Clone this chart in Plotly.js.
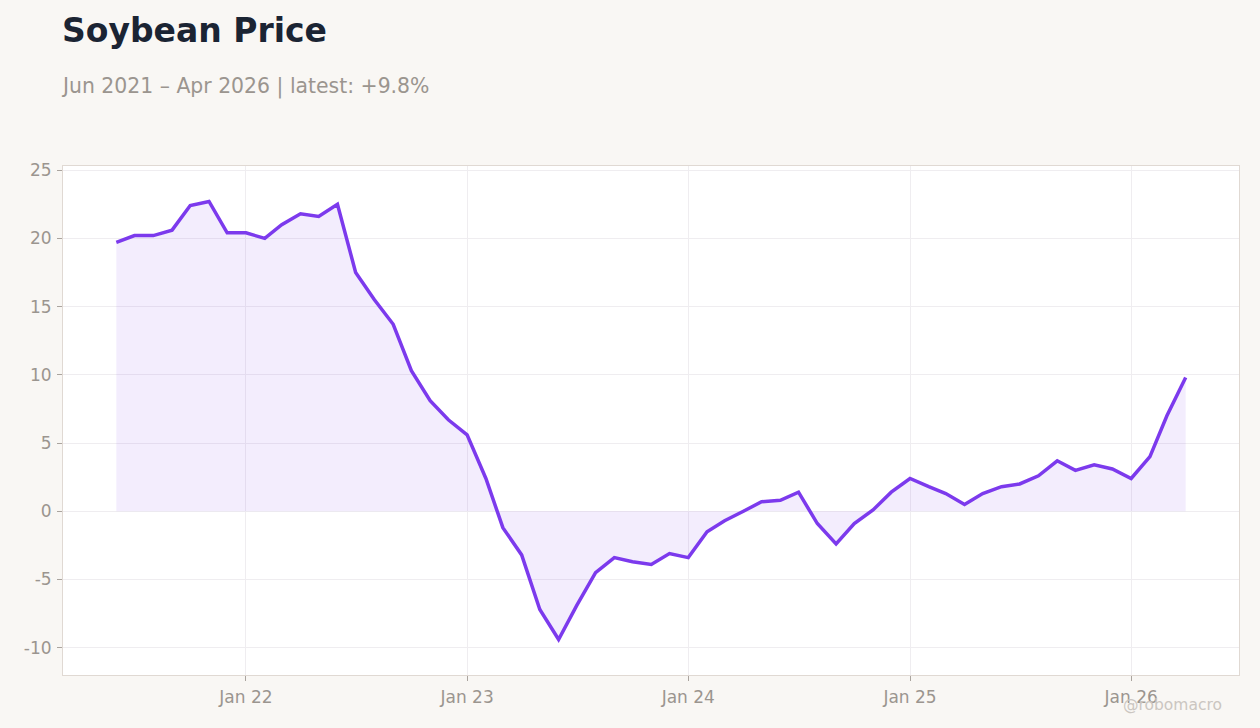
<!DOCTYPE html>
<html>
<head>
<meta charset="utf-8">
<script src="https://cdn.plot.ly/plotly-3.0.1.min.js"></script>
<style>
  html, body { margin: 0; padding: 0; background: #f9f7f4; }
  #chart { width: 1260px; height: 728px; }
</style>
</head>
<body>
<div id="chart"></div>
<script>
// monthly readings, Jun 2021 .. Apr 2026 (year-over-year %)
const months = [
  '2021-06-01', '2021-07-01', '2021-08-01', '2021-09-01', '2021-10-01', '2021-11-01', '2021-12-01',
  '2022-01-01', '2022-02-01', '2022-03-01', '2022-04-01', '2022-05-01', '2022-06-01',
  '2022-07-01', '2022-08-01', '2022-09-01', '2022-10-01', '2022-11-01', '2022-12-01',
  '2023-01-01', '2023-02-01', '2023-03-01', '2023-04-01', '2023-05-01', '2023-06-01',
  '2023-07-01', '2023-08-01', '2023-09-01', '2023-10-01', '2023-11-01', '2023-12-01',
  '2024-01-01', '2024-02-01', '2024-03-01', '2024-04-01', '2024-05-01', '2024-06-01',
  '2024-07-01', '2024-08-01', '2024-09-01', '2024-10-01', '2024-11-01', '2024-12-01',
  '2025-01-01', '2025-02-01', '2025-03-01', '2025-04-01', '2025-05-01', '2025-06-01',
  '2025-07-01', '2025-08-01', '2025-09-01', '2025-10-01', '2025-11-01', '2025-12-01',
  '2026-01-01', '2026-02-01', '2026-03-01', '2026-04-01'
];

const priceChange = [
  19.7, 20.2, 20.2, 20.6, 22.4, 22.7, 20.4,
  20.4, 20.0, 21.0, 21.8, 21.6, 22.5,
  17.5, 15.5, 13.7, 10.3, 8.1, 6.7,
  5.6, 2.4, -1.2, -3.2, -7.2, -9.4,
  -6.9, -4.5, -3.4, -3.7, -3.9, -3.1,
  -3.4, -1.5, -0.7, 0.0, 0.7, 0.8,
  1.4, -0.9, -2.4, -0.9, 0.1, 1.4,
  2.4, 1.8, 1.3, 0.5, 1.3, 1.8,
  2.0, 2.6, 3.7, 3.0, 3.4, 3.1,
  2.4, 4.0, 7.0, 9.8
];

const yTicks = [-10, -5, 0, 5, 10, 15, 20, 25];

const titleText = 'Soybean Price';
const subtitleText = 'Jun 2021 – Apr 2026 | latest: +9.8%';
const watermark = '@robomacro';

const FONT = 'DejaVu Sans, sans-serif';
const GREY = '#9b958f';

const trace = {
  x: months,
  y: priceChange,
  type: 'scatter',
  mode: 'lines',
  fill: 'tozeroy',
  fillcolor: 'rgba(124, 58, 237, 0.09)',
  line: { color: '#7c3aed', width: 3.5 },
  hoverinfo: 'skip'
};

const axisCommon = {
  showgrid: true,
  gridcolor: '#efedf0',
  gridwidth: 1,
  zeroline: false,
  showline: true,
  linecolor: '#e0d9d3',
  linewidth: 1,
  mirror: true,
  ticks: 'outside',
  ticklen: 5,
  tickcolor: '#aaa49e',
  ticklabelstandoff: 2,
  tickfont: { family: FONT, size: 17, color: GREY }
};

const layout = {
  width: 1260,
  height: 728,
  paper_bgcolor: '#f9f7f4',
  plot_bgcolor: '#ffffff',
  margin: { l: 63, r: 21, t: 166, b: 53 },
  showlegend: false,
  xaxis: Object.assign({}, axisCommon, {
    type: 'date',
    range: ['2021-03-05', '2026-06-28'],
    tick0: '2022-01-01',
    dtick: 'M12',
    tickformat: '%b %y'
  }),
  yaxis: Object.assign({}, axisCommon, {
    range: [-12, 25.3],
    tickvals: yTicks,
    ticktext: yTicks.map(String)
  }),
  annotations: [
    {
      text: '<b>' + titleText + '</b>',
      xref: 'paper', yref: 'paper',
      x: 0, y: 1.267, xshift: -3,
      xanchor: 'left', yanchor: 'middle',
      showarrow: false,
      font: { family: FONT, size: 33, color: '#1b2433' }
    },
    {
      text: subtitleText,
      xref: 'paper', yref: 'paper',
      x: 0, y: 1.157, xshift: -4,
      xanchor: 'left', yanchor: 'middle',
      showarrow: false,
      font: { family: FONT, size: 20.4, color: GREY }
    },
    {
      text: watermark,
      xref: 'paper', yref: 'paper',
      x: 0.9847, y: -0.059, xshift: 3,
      xanchor: 'right', yanchor: 'middle',
      showarrow: false,
      font: { family: FONT, size: 15.5, color: '#cbc6c1' }
    }
  ]
};

Plotly.newPlot('chart', [trace], layout, { staticPlot: true, displayModeBar: false });
</script>
</body>
</html>
